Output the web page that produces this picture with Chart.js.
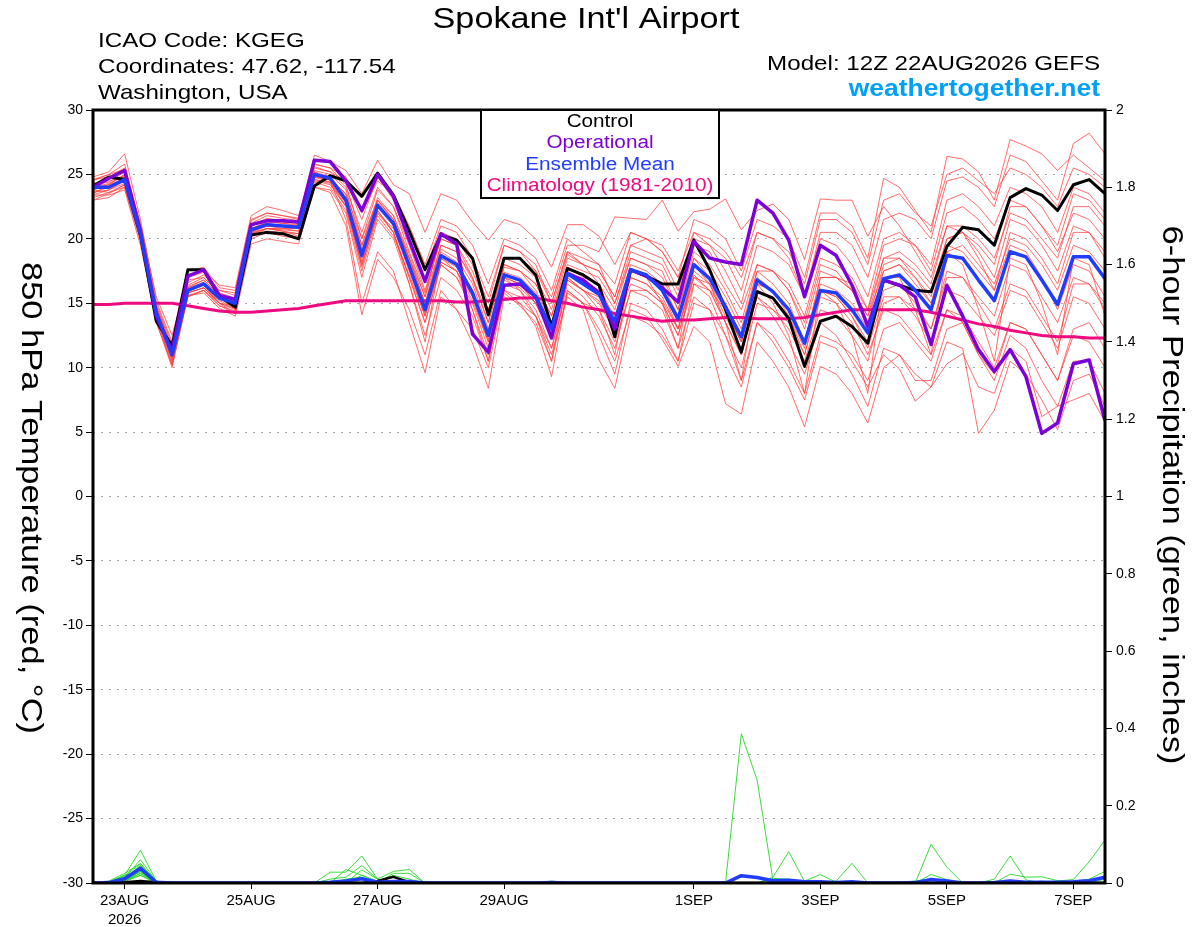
<!DOCTYPE html>
<html lang="en">
<head>
<meta charset="UTF-8">
<title>Spokane Int'l Airport - GEFS plume</title>
<style>
  html, body { margin: 0; padding: 0; background: #fff; }
  .wrap { width: 1200px; height: 927px; position: relative; }
</style>
<script src="https://cdn.jsdelivr.net/npm/chart.js"></script>
</head>
<body>
<div class="wrap"><canvas id="plume"></canvas></div>
<script>
// forecast hours from 12Z 22AUG2026
const hours = [0,6,12,18,24,30,36,42,48,54,60,66,72,78,84,90,96,102,108,114,120,126,132,138,144,150,156,162,168,174,180,186,192,198,204,210,216,222,228,234,240,246,252,258,264,270,276,282,288,294,300,306,312,318,324,330,336,342,348,354,360,366,372,378,384];
const dayTicks = [12, 60, 108, 156, 228, 276, 324, 372];
const dayLabels = [['23AUG', '2026'], '25AUG', '27AUG', '29AUG', '1SEP', '3SEP', '5SEP', '7SEP'];

// 850 hPa temperature (C)
const controlT = [24.1,24.8,24.6,20.3,13.6,11.7,17.6,17.6,
  15.5,14.7,20.3,20.5,20.4,20.0,24.1,24.9,
  24.5,23.3,25.1,23.4,20.6,17.6,20.3,19.9,
  18.5,14.1,18.5,18.5,17.2,13.2,17.7,17.2,
  16.4,12.4,17.6,17.1,16.5,16.5,19.9,17.6,
  14.5,11.2,15.9,15.4,13.8,10.1,13.6,14.0,
  13.2,11.9,16.8,16.4,16.0,15.9,19.4,20.9,
  20.7,19.5,23.2,23.9,23.4,22.2,24.2,24.6,
  23.5];
const operationalT = [24.0,24.7,25.3,20.6,14.0,11.3,17.1,17.6,
  15.6,15.3,21.1,21.4,21.4,21.3,26.1,26.0,
  24.5,22.2,25.0,23.3,19.9,16.7,20.4,19.6,
  12.6,11.2,16.4,16.5,15.5,12.3,17.3,16.8,
  15.8,13.0,17.6,17.1,16.2,15.1,19.8,18.5,
  18.2,18.0,23.0,22.0,19.9,15.5,19.5,18.7,
  16.4,13.2,16.8,16.4,15.5,11.8,16.4,14.0,
  11.4,9.7,11.4,9.3,4.9,5.7,10.3,10.6,
  5.9];
const meanT = [24.0,24.0,24.6,20.4,14.3,11.0,16.0,16.5,
  15.4,15.0,20.7,21.1,21.0,20.9,25.0,24.7,
  23.0,18.7,22.6,21.2,17.9,14.5,18.7,18.0,
  15.8,12.5,17.2,16.8,15.5,13.0,17.3,16.5,
  15.7,13.6,17.6,17.2,16.0,13.8,18.0,16.9,
  14.7,12.4,16.8,15.9,14.5,11.9,16.0,15.8,
  14.5,12.7,16.9,17.2,16.0,14.5,18.7,18.5,
  16.8,15.2,19.0,18.6,16.8,14.9,18.6,18.6,
  16.9];
const climoT = [14.9,14.9,15.0,15.0,15.0,15.0,14.8,14.6,
  14.4,14.3,14.3,14.4,14.5,14.6,14.8,15.0,
  15.2,15.2,15.2,15.2,15.2,15.2,15.2,15.1,
  15.1,15.2,15.3,15.4,15.4,15.2,15.0,14.7,
  14.5,14.2,14.0,13.8,13.6,13.7,13.7,13.8,
  13.9,13.9,13.8,13.8,13.8,13.9,14.1,14.3,
  14.5,14.5,14.5,14.5,14.5,14.3,14.0,13.7,
  13.4,13.2,12.9,12.7,12.5,12.4,12.4,12.3,
  12.3];

// ensemble members, 850 hPa temperature
const memberT = [
  [24.5,25.0,25.8,21.0,14.8,11.5,16.8,17.0, 15.8,15.4,21.0,21.6,21.4,21.2,25.5,25.2,
   24.0,20.5,24.0,22.5,19.5,16.0,20.0,19.5, 17.5,14.5,18.5,18.0,17.0,14.5,18.8,18.0,
   17.5,15.5,19.5,19.0,18.5,16.0,20.0,19.5, 17.5,15.0,19.5,19.0,18.0,15.5,20.5,20.5,
   19.5,17.0,21.5,22.0,21.5,20.0,24.5,24.8, 24.0,22.5,26.5,26.0,24.5,23.0,27.4,28.2, 26.6],
  [23.5,24.2,25.0,20.8,14.0,10.5,15.8,16.2, 15.2,14.6,20.2,20.8,20.6,20.4,24.8,24.6,
   23.5,20.0,23.0,21.8,18.8,15.5,20.5,20.0, 18.0,15.0,19.5,19.0,18.0,15.0,19.0,18.5,
   18.0,16.5,20.5,20.0,19.0,17.0,21.5,21.0, 20.0,17.5,21.5,21.0,20.0,17.0,22.0,22.0,
   21.0,18.5,24.7,24.0,22.2,20.5,26.4,26.2, 25.2,23.0,27.7,27.2,26.6,25.3,26.5,25.5, 24.5],
  [23.0,23.2,24.0,19.8,13.5,10.2,15.5,16.0, 14.8,14.2,20.0,20.5,20.2,20.0,24.0,23.8,
   22.0,17.0,21.5,20.0,16.5,12.5,17.0,16.0, 14.0,10.5,16.0,15.5,14.0,11.5,16.5,15.5,
   14.0,11.5,16.0,15.5,14.5,11.5,15.5,14.5, 11.0,8.5,13.5,12.0,10.0,7.5,12.0,11.5,
   9.5,7.0,11.5,11.0,9.5,8.5,12.0,11.5, 4.9,6.7,10.5,9.5,7.5,5.2,9.0,9.5, 7.0],
  [24.2,24.5,24.8,20.5,14.5,10.8,15.6,16.0, 15.0,14.5,20.5,21.0,20.8,20.8,25.2,24.5,
   21.5,15.0,19.0,17.5,13.5,9.6,15.5,14.5, 11.9,8.4,15.5,15.0,13.2,9.3,16.0,15.0,
   12.5,9.5,15.0,14.5,13.0,10.5,16.5,16.0, 13.5,11.0,16.0,15.5,14.0,11.5,17.0,17.0,
   16.0,13.5,18.0,18.5,17.5,16.0,20.0,20.5, 19.0,17.0,21.5,21.0,19.5,17.5,21.0,20.5, 19.0],
  [24.8,25.2,26.6,21.5,15.2,12.0,17.5,17.8, 16.2,16.0,21.5,22.0,21.8,21.5,26.5,26.0,
   25.3,23.5,26.1,24.2,23.5,20.5,23.5,23.0, 21.3,19.9,21.5,21.1,20.0,17.8,21.1,21.1,
   20.2,18.0,20.5,20.0,19.0,17.0,19.5,19.0, 16.5,14.5,18.0,17.5,16.0,13.5,18.0,17.5,
   16.0,14.0,17.5,18.0,17.0,15.0,19.0,19.5, 18.0,16.5,20.0,19.5,18.0,16.0,19.5,19.0, 17.5],
  [23.6,23.8,24.3,20.2,14.0,11.2,16.2,16.8, 15.6,15.2,21.0,21.4,21.2,21.0,25.0,24.8,
   23.2,19.5,23.0,21.5,18.5,15.5,19.5,19.0, 17.0,14.0,18.5,18.5,17.5,15.5,19.5,19.5,
   19.0,21.7,21.6,21.5,23.0,20.6,22.1,22.3, 23.1,20.7,22.2,22.7,21.5,18.4,23.1,23.0,
   23.0,20.2,22.5,21.0,19.0,17.0,21.0,20.5, 18.5,16.0,19.5,19.0,17.0,14.5,18.0,17.5, 15.5],
  [23.2,23.6,24.2,20.0,14.2,10.6,15.8,16.2, 15.0,14.8,20.4,20.8,20.8,20.6,24.5,24.2,
   22.5,18.0,22.0,20.5,17.0,13.5,18.0,17.0, 15.0,11.5,16.5,16.0,14.5,11.5,16.0,15.0,
   13.0,10.5,14.5,14.0,12.2,10.1,13.2,12.0, 7.2,6.4,12.0,10.5,8.5,5.4,10.1,9.5,
   8.0,5.7,10.0,11.0,9.0,9.0,13.0,13.5, 11.0,9.5,13.5,13.0,11.0,9.0,13.0,13.5, 11.5],
  [24.2,24.4,25.2,20.8,14.6,11.4,16.4,17.0, 15.7,15.3,20.8,21.3,21.2,21.1,25.3,25.0,
   23.8,19.5,23.2,21.8,18.5,15.0,19.2,18.5, 16.5,13.0,17.8,17.5,16.0,13.5,17.8,17.0,
   16.5,14.5,18.5,18.0,17.0,14.5,19.0,18.0, 16.0,13.5,18.0,17.5,16.0,13.0,17.5,17.0,
   16.0,14.0,18.5,19.0,18.0,16.5,21.0,21.0, 20.0,18.5,22.0,21.5,20.0,18.5,22.5,22.5, 21.0],
  [23.8,23.6,24.0,20.0,14.0,10.8,15.8,16.2, 15.0,14.6,20.5,20.8,20.7,20.6,24.6,24.3,
   22.5,18.0,22.0,20.8,17.5,14.0,18.2,17.5, 15.2,12.0,16.8,16.2,15.0,12.5,16.8,16.0,
   15.0,12.8,17.0,16.5,15.2,13.0,17.2,16.0, 13.5,11.0,15.5,14.5,13.0,10.5,14.5,14.0,
   12.5,10.5,15.0,15.5,14.0,12.0,16.0,15.5, 14.0,12.5,16.0,15.5,13.5,11.5,15.5,15.0, 13.0],
  [23.4,23.8,24.5,20.3,14.4,11.0,16.0,16.4, 15.4,15.0,20.6,21.0,21.0,20.8,24.8,24.4,
   22.8,18.5,22.5,21.0,17.8,14.2,18.5,17.8, 15.5,12.0,17.0,16.5,15.0,12.5,17.0,16.0,
   15.5,13.0,17.0,16.5,15.5,13.0,17.5,16.5, 14.0,11.5,15.5,14.0,12.0,9.5,13.5,12.5,
   10.5,8.5,11.0,9.9,7.4,8.5,10.3,11.1, 8.5,8.0,11.5,10.5,6.2,7.0,7.5,8.0, 5.8],
  [24.6,24.8,25.5,21.0,14.8,11.6,16.6,17.2, 16.0,15.6,21.2,21.8,21.6,21.4,25.8,25.5,
   24.2,20.0,23.8,22.5,19.0,15.8,20.0,19.5, 17.0,13.5,18.0,17.5,16.5,14.0,18.0,17.5,
   17.0,15.0,19.0,18.5,18.0,15.5,20.5,19.5, 18.5,16.0,20.5,20.0,19.0,16.5,21.5,21.5,
   20.5,18.0,23.0,23.5,22.0,21.0,25.0,25.5, 24.5,23.5,25.5,25.0,24.0,22.5,25.5,25.0, 24.0],
  [23.8,24.2,24.6,20.6,14.6,11.2,16.2,16.6, 15.5,15.0,20.8,21.2,21.0,20.8,24.9,24.6,
   22.8,18.2,22.2,20.5,17.0,13.5,18.0,17.0, 14.5,11.0,16.0,15.0,14.0,11.0,15.5,14.5,
   10.6,8.4,14.0,13.5,12.5,10.5,15.0,14.5, 12.5,10.0,15.0,14.5,13.5,11.0,16.0,15.5,
   14.0,12.0,16.0,16.5,15.0,13.0,17.5,17.0, 15.0,13.0,16.5,16.0,14.0,12.0,16.5,16.5, 14.5],
  [24.0,24.6,25.4,21.2,15.5,12.5,17.2,17.5, 16.4,16.2,21.8,22.5,22.2,21.8,25.8,25.5,
   24.8,22.0,24.5,23.5,21.0,18.0,21.5,21.0, 19.5,16.5,20.0,19.5,18.5,16.0,20.0,19.0,
   18.0,15.0,18.5,18.0,17.5,14.5,18.5,17.5, 15.5,13.0,17.5,17.5,16.5,14.0,18.5,18.0,
   17.0,14.5,19.5,20.0,19.5,18.0,23.0,23.5, 22.5,21.0,24.0,23.5,22.5,20.5,24.0,23.5, 22.0],
  [23.4,23.4,23.8,19.5,13.6,10.0,15.6,15.8, 14.6,14.0,19.6,20.0,19.8,19.6,24.0,23.6,
   21.0,14.1,18.4,17.0,14.5,11.0,16.0,14.5, 13.0,10.0,15.8,14.8,13.5,10.5,15.8,15.0,
   14.5,12.0,16.0,16.0,15.0,12.5,17.0,16.0, 14.5,12.0,16.5,16.0,14.5,12.0,16.0,15.5,
   14.0,11.5,15.5,15.5,14.5,13.0,17.0,17.0, 15.5,14.0,18.0,17.5,15.5,13.5,17.0,16.5, 15.0],
  [24.4,24.0,24.8,20.5,14.2,11.0,16.0,16.6, 15.3,15.0,20.8,21.2,21.0,21.0,25.2,24.8,
   23.2,19.0,22.8,21.5,18.2,14.8,19.0,18.2, 16.0,12.8,17.4,17.0,15.8,13.2,17.5,16.8,
   16.0,14.0,18.0,17.5,16.5,14.0,18.5,17.0, 15.0,12.5,17.5,16.5,15.0,12.0,16.5,16.0,
   15.0,13.0,17.5,18.0,16.5,15.0,19.5,19.0, 17.5,16.0,20.5,20.0,18.5,16.5,20.5,20.5, 18.5],
  [23.0,23.5,24.2,20.0,13.8,10.4,15.5,16.0, 14.8,14.4,20.2,20.6,20.5,20.4,24.4,24.0,
   22.2,17.5,21.8,20.2,17.2,14.0,18.2,17.5, 15.5,12.2,17.0,16.5,15.0,12.5,16.8,16.0,
   15.2,13.0,16.5,16.0,15.0,12.5,16.5,15.5, 12.5,9.0,13.5,12.5,10.5,8.0,12.5,12.0,
   11.0,9.0,13.0,13.5,12.0,10.5,14.5,14.0, 12.0,10.0,13.5,13.0,11.0,9.0,12.5,12.0, 10.0],
  [24.0,24.3,24.9,20.6,14.4,11.2,16.3,16.8, 15.6,15.2,21.0,21.4,21.3,21.2,25.0,24.8,
   23.4,19.2,23.0,21.5,18.5,15.0,19.5,19.0, 16.8,13.5,18.0,17.5,16.5,14.0,18.5,18.0,
   17.5,15.5,19.5,20.0,19.5,17.5,20.5,20.0, 19.0,17.0,20.5,20.0,18.5,15.5,20.0,19.5,
   18.0,15.5,20.0,20.5,19.5,17.5,22.0,22.5, 21.5,20.0,23.0,22.5,21.0,19.5,23.5,23.0, 21.5],
  [23.6,24.0,24.8,20.2,13.8,10.2,16.0,16.4, 15.0,14.2,20.4,20.8,20.6,20.2,24.6,24.4,
   22.6,17.8,22.2,20.5,16.5,12.0,18.5,17.5, 14.5,10.5,17.0,16.0,14.0,10.5,17.0,16.0,
   14.5,11.0,17.5,17.0,15.0,11.5,18.0,16.5, 13.5,9.0,16.5,15.0,12.5,8.0,16.0,15.0,
   12.5,8.0,17.0,17.0,14.5,11.0,19.0,18.0, 14.5,10.5,18.5,18.0,15.0,11.0,18.5,18.0, 14.0],
  [24.6,25.0,25.4,20.8,15.0,11.8,17.0,17.4, 16.0,15.8,21.4,22.0,21.8,21.6,25.6,25.2,
   24.5,21.5,24.8,23.0,20.5,17.5,21.0,20.5, 18.5,15.5,19.5,19.0,17.5,15.0,19.0,18.0,
   16.5,13.5,17.5,17.0,16.0,13.0,17.0,16.5, 14.5,12.0,16.5,16.0,14.5,12.0,17.0,17.0,
   16.5,14.5,18.5,18.5,17.0,15.5,20.0,20.5, 19.5,18.0,22.5,22.5,21.0,19.0,22.0,21.5, 20.0],
  [23.8,24.2,25.0,20.4,14.2,10.8,16.0,16.6, 15.4,15.2,20.6,21.0,21.0,20.9,24.8,24.6,
   23.0,18.8,22.6,21.0,17.8,14.5,18.8,18.0, 15.8,12.5,17.2,16.8,15.5,12.8,17.2,16.5,
   15.8,13.5,17.5,17.0,16.0,13.5,18.0,17.0, 14.5,12.0,17.0,16.0,14.0,11.0,15.5,15.0,
   13.5,11.0,14.5,14.0,12.5,11.0,14.5,13.5, 11.0,9.0,12.5,11.5,9.0,7.0,10.5,10.5, 8.0]
];

// 6-hour precipitation (inches)
const controlP = [0,0,0.002,0.005,0.002,0,0,0, 0,0,0,0,0,0,0,0,
  0,0,0.005,0.016,0.002,0,0,0, 0,0,0,0,0,0,0,0, 0,0,0,0,0,0,0,0,
  0,0,0,0,0,0,0,0, 0,0,0,0,0,0,0,0, 0,0,0,0,0,0,0,0, 0];
const meanP = [0,0.001,0.011,0.038,0.002,0,0,0, 0,0,0,0,0,0,0,0.002,
  0.005,0.011,0.002,0.004,0.004,0,0,0, 0,0,0,0,0,0.001,0,0, 0,0,0,0,0,0,0,0,
  0,0.019,0.014,0.006,0.007,0.003,0.003,0.001, 0.003,0,0,0,0.001,0.009,0.005,0,
  0,0.001,0.005,0.002,0.002,0.002,0.003,0.006, 0.015];
const memberP = [
  [0,0,0.015,0.06,0.005,0,0,0, 0,0,0,0,0,0,0,0, 0,0,0,0,0,0,0,0, 0,0,0,0,0,0,0,0,
   0,0,0,0,0,0,0,0, 0,0,0,0,0,0,0,0, 0,0,0,0,0,0.1,0.041,0, 0,0,0,0,0,0,0,0, 0],
  [0,0.005,0.025,0.05,0.005,0,0,0, 0,0,0,0,0,0,0,0, 0,0,0,0,0,0,0,0, 0,0,0,0,0,0,0,0,
   0,0,0,0,0,0,0,0, 0,0,0,0,0,0,0,0, 0,0,0,0,0,0,0,0, 0,0.01,0.07,0.008,0,0,0,0, 0],
  [0,0,0.01,0.045,0,0,0,0, 0,0,0,0,0,0,0,0, 0,0.034,0.01,0.03,0.035,0,0,0, 0,0,0,0,0,0,0,0,
   0,0,0,0,0,0,0,0, 0,0,0,0,0,0,0,0.005, 0.051,0,0,0,0,0,0,0, 0,0,0,0,0,0,0,0, 0],
  [0,0,0.01,0.04,0.003,0,0,0, 0,0,0,0,0,0,0,0, 0.035,0.02,0.005,0,0,0,0,0, 0,0,0,0,0,0,0,0,
   0,0,0,0,0,0,0,0, 0,0,0,0,0,0,0,0, 0,0,0,0,0,0,0,0, 0,0,0,0,0,0,0,0, 0],
  [0,0.003,0.02,0.085,0.005,0,0,0, 0,0,0,0,0,0,0,0, 0,0,0,0,0,0,0,0, 0,0,0,0,0,0,0,0,
   0,0,0,0,0,0,0,0, 0,0,0,0,0,0,0,0, 0,0,0,0,0,0,0,0, 0,0,0,0,0,0,0.004,0.01, 0.03],
  [0,0,0.02,0.03,0,0,0,0, 0,0,0,0,0,0,0,0, 0,0,0,0,0,0,0,0, 0,0,0,0,0,0,0,0,
   0,0,0,0,0,0,0,0, 0,0.386,0.266,0.008,0,0,0,0, 0,0,0,0,0,0,0,0, 0,0,0,0,0,0,0,0, 0],
  [0,0,0.005,0.02,0,0,0,0, 0,0,0,0,0,0,0,0, 0,0,0,0.025,0.025,0,0,0, 0,0,0,0,0,0,0,0,
   0,0,0,0,0,0,0,0, 0,0,0,0.015,0.081,0.004,0,0, 0,0,0,0,0,0,0,0, 0,0,0,0,0,0,0,0, 0],
  [0,0,0.01,0.035,0.002,0,0,0, 0,0,0,0,0,0,0,0, 0,0,0,0,0,0,0,0, 0,0,0,0,0,0,0,0,
   0,0,0,0,0,0,0,0, 0,0,0,0,0,0,0,0, 0,0,0,0,0,0,0,0, 0,0,0,0,0,0.005,0.009,0.055, 0.111],
  [0,0,0.008,0.03,0,0,0,0, 0,0,0,0,0,0,0,0, 0,0,0,0,0,0,0,0, 0,0,0,0,0,0,0,0,
   0,0,0,0,0,0,0,0, 0,0,0,0,0,0,0,0, 0,0,0,0,0,0,0,0, 0,0,0,0,0,0,0,0, 0],
  [0,0,0.005,0.025,0,0,0,0, 0,0,0,0,0,0,0,0, 0,0,0,0,0,0,0,0, 0,0,0,0,0,0,0,0,
   0,0,0,0,0,0,0,0, 0,0,0,0,0.008,0,0.005,0, 0,0,0,0,0,0,0,0, 0,0,0,0,0,0,0,0, 0],
  [0,0,0.012,0.04,0.004,0,0,0, 0,0,0,0,0,0,0,0, 0,0,0,0,0,0,0,0, 0,0,0,0,0,0,0,0,
   0,0,0,0,0,0,0,0, 0,0,0,0.012,0.01,0.005,0.022,0.002, 0,0,0,0,0,0,0,0, 0,0,0,0,0,0,0,0, 0],
  [0,0.004,0.018,0.05,0.003,0,0,0, 0,0,0,0,0,0,0,0.01, 0.015,0.045,0.01,0,0,0,0,0, 0,0,0,0,0,0,0,0,
   0,0,0,0,0,0,0,0, 0,0,0,0,0,0,0,0, 0,0,0,0,0,0,0,0, 0,0,0,0,0,0,0,0, 0],
  [0,0,0.008,0.03,0,0,0,0, 0,0,0,0,0,0,0,0, 0,0,0,0,0,0,0,0, 0,0,0,0,0,0,0,0,
   0,0,0,0,0,0,0,0, 0,0,0,0,0,0,0,0, 0,0,0,0,0,0.022,0.009,0, 0,0,0,0,0,0,0,0, 0],
  [0,0,0.012,0.045,0.004,0,0,0, 0,0,0,0,0,0,0,0.028, 0.028,0.07,0.01,0,0,0,0,0, 0,0,0,0,0,0,0,0,
   0,0,0,0,0,0,0,0, 0,0,0,0,0,0,0,0, 0,0,0,0,0,0,0,0, 0,0,0,0,0,0,0,0, 0],
  [0,0,0.01,0.035,0,0,0,0, 0,0,0,0,0,0,0,0, 0,0,0,0,0,0,0,0, 0,0,0,0,0,0,0,0,
   0,0,0,0,0,0,0,0, 0,0,0,0,0,0,0,0, 0,0,0,0,0,0,0,0, 0,0,0,0,0.005,0,0,0, 0.01],
  [0,0,0.004,0.02,0,0,0,0, 0,0,0,0,0,0,0,0, 0,0,0,0,0,0,0,0, 0,0,0,0,0,0,0,0,
   0,0,0,0,0,0,0,0, 0,0,0,0,0,0,0,0, 0,0,0,0,0,0,0,0, 0,0,0,0,0,0,0,0, 0],
  [0,0,0.01,0.04,0.003,0,0,0, 0,0,0,0,0,0,0,0, 0,0,0,0,0,0,0,0, 0,0,0,0,0,0,0,0,
   0,0,0,0,0,0,0,0, 0,0,0,0,0,0,0,0, 0,0,0,0,0,0,0,0, 0,0,0.023,0.015,0.016,0.006,0,0, 0],
  [0,0,0.006,0.03,0,0,0,0, 0,0,0,0,0,0,0,0, 0,0.02,0,0.02,0.01,0,0,0, 0,0,0,0,0,0.005,0,0,
   0,0,0,0,0,0,0,0, 0,0,0,0,0,0,0,0, 0,0,0,0,0,0,0,0, 0,0,0,0,0,0,0,0, 0],
  [0,0,0.006,0.025,0,0,0,0, 0,0,0,0,0,0,0,0, 0,0,0,0,0,0,0,0, 0,0,0,0,0,0,0,0,
   0,0,0,0,0,0,0,0, 0,0,0,0,0,0,0,0, 0,0,0,0,0.005,0.01,0,0, 0,0,0,0,0,0,0,0, 0],
  [0,0,0.008,0.03,0.002,0,0,0, 0,0,0,0,0,0,0,0, 0.01,0.015,0,0,0,0,0,0, 0,0,0,0,0,0,0,0,
   0,0,0,0,0,0,0,0, 0,0,0,0,0,0,0,0, 0,0,0,0,0,0,0,0, 0,0,0,0,0,0,0,0, 0]
];

const FONT = '"Liberation Sans", Arial, Helvetica, sans-serif';
const RED = 'rgba(255,60,60,0.75)';
const GREEN = 'rgba(40,215,40,0.9)';
const BLACK = '#000000';
const PURPLE = '#7d00d8';
const BLUE = '#1f3cff';
const MAGENTA = '#ee0a80';

Chart.defaults.font.family = FONT;
Chart.defaults.color = '#000';

const toPoints = (vals) => vals.map((v, i) => ({ x: hours[i], y: v }));

function line(vals, color, width, axis, order) {
  return {
    data: toPoints(vals),
    borderColor: color,
    borderWidth: width,
    yAxisID: axis,
    order: order,
    pointRadius: 0,
    tension: 0,
    fill: false,
    borderJoinStyle: 'round'
  };
}

const datasets = [];
datasets.push(line(meanT, BLUE, 3.5, 'y', 0));
datasets.push(line(operationalT, PURPLE, 3.5, 'y', 1));
datasets.push(line(controlT, BLACK, 3, 'y', 2));
datasets.push(line(climoT, MAGENTA, 3, 'y', 3));
datasets.push(line(meanP, BLUE, 3.5, 'y1', 4));
datasets.push(line(controlP, BLACK, 2.5, 'y1', 5));
memberP.forEach(p => datasets.push(line(p, GREEN, 1, 'y1', 6)));
memberT.forEach(t => datasets.push(line(t, RED, 1, 'y', 7)));

// stretched text, the original plot uses a wide sans font
function wideText(ctx, txt, x, y, size, color, align, opts = {}) {
  ctx.save();
  ctx.font = (opts.bold ? 'bold ' : '') + size + 'px ' + FONT;
  ctx.fillStyle = color;
  ctx.textAlign = align;
  ctx.textBaseline = opts.baseline || 'alphabetic';
  ctx.translate(x, y);
  if (opts.rotate) ctx.rotate(opts.rotate);
  ctx.scale(opts.stretch || 1.15, 1);
  ctx.fillText(txt, 0, 0);
  ctx.restore();
}

const decorations = {
  id: 'decorations',
  afterDatasetsDraw(chart) {
    const { ctx, chartArea: a } = chart;
    ctx.save();
    ctx.strokeStyle = '#000';
    ctx.lineWidth = 3;
    ctx.strokeRect(a.left, a.top, a.right - a.left, a.bottom - a.top);

    // legend box
    ctx.fillStyle = '#fff';
    ctx.fillRect(481, 110, 238, 88);
    ctx.lineWidth = 2;
    ctx.strokeRect(481, 110, 238, 88);
    ctx.restore();
    wideText(ctx, 'Control', 600, 127, 18, BLACK, 'center');
    wideText(ctx, 'Operational', 600, 148, 18, PURPLE, 'center');
    wideText(ctx, 'Ensemble Mean', 600, 170, 18, BLUE, 'center');
    wideText(ctx, 'Climatology (1981-2010)', 600, 191, 18, MAGENTA, 'center');
  },
  afterDraw(chart) {
    const ctx = chart.ctx;
    wideText(ctx, "Spokane Int'l Airport", 586, 28, 30, '#000', 'center', { stretch: 1.14 });
    wideText(ctx, 'ICAO Code: KGEG', 98, 47, 21, '#000', 'left');
    wideText(ctx, 'Coordinates: 47.62, -117.54', 98, 73, 21, '#000', 'left');
    wideText(ctx, 'Washington, USA', 98, 99, 21, '#000', 'left');
    wideText(ctx, 'Model: 12Z 22AUG2026 GEFS', 1100, 70, 21, '#000', 'right');
    wideText(ctx, 'weathertogether.net', 1100, 96, 23, '#00a0f8', 'right', { bold: true });
    wideText(ctx, '850 hPa Temperature (red, \u00B0C)', 30, 498, 30, '#000', 'center',
      { rotate: Math.PI / 2, baseline: 'middle' });
    wideText(ctx, '6-hour Precipitation (green, inches)', 1171, 495, 30, '#000', 'center',
      { rotate: Math.PI / 2, baseline: 'middle' });
  }
};

new Chart(document.getElementById('plume'), {
  type: 'line',
  data: { datasets: datasets },
  options: {
    responsive: true,
    maintainAspectRatio: false,
    animation: false,
    events: [],
    layout: { padding: { top: 110, left: 0, right: 0, bottom: 0 } },
    plugins: {
      legend: { display: false },
      title: { display: false },
      tooltip: { enabled: false }
    },
    scales: {
      x: {
        type: 'linear',
        min: 0,
        max: 384,
        afterBuildTicks: (axis) => { axis.ticks = dayTicks.map(v => ({ value: v })); },
        afterFit: (s) => { s.height = 44; },
        ticks: {
          autoSkip: false,
          maxRotation: 0,
          padding: 2,
          font: { size: 15, lineHeight: 1.3 },
          callback: (value, index) => dayLabels[index]
        },
        grid: { display: true, drawOnChartArea: false, drawTicks: true, tickLength: 6, tickColor: '#000' },
        border: { display: false }
      },
      y: {
        position: 'left',
        min: -30,
        max: 30,
        afterFit: (s) => { s.width = 93; },
        ticks: { stepSize: 5, padding: 3, font: { size: 14 } },
        grid: { color: '#a8a8a8', lineWidth: 1, tickLength: 7, tickColor: '#000' },
        border: { display: false, dash: [2, 6] }
      },
      y1: {
        position: 'right',
        min: 0,
        max: 2,
        afterFit: (s) => { s.width = 95; },
        ticks: {
          stepSize: 0.2,
          padding: 4,
          font: { size: 14 },
          callback: (v) => String(Math.round(v * 10) / 10)
        },
        grid: { drawOnChartArea: false, drawTicks: true, tickLength: 7, tickColor: '#000' },
        border: { display: false }
      }
    }
  },
  plugins: [decorations]
});
</script>
</body>
</html>
